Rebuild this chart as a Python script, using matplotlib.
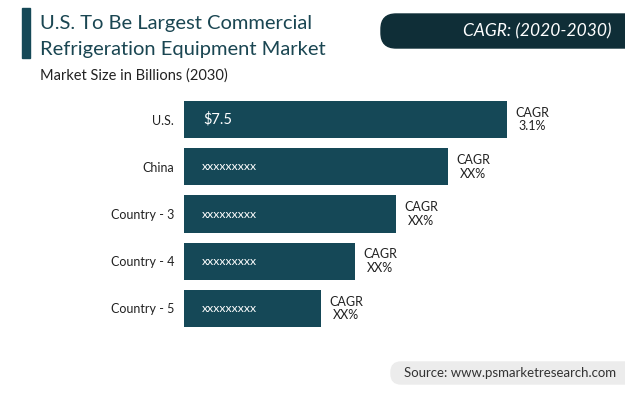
import matplotlib
matplotlib.use("Agg")
import matplotlib.pyplot as plt
from matplotlib.patches import FancyBboxPatch, Rectangle

categories = ["U.S.", "China", "Country - 3", "Country - 4", "Country - 5"]
values = [7.5, 6.13, 4.92, 3.97, 3.18]
bar_labels = ["$7.5", "xxxxxxxxx", "xxxxxxxxx", "xxxxxxxxx", "xxxxxxxxx"]
cagr_labels = ["3.1%", "XX%", "XX%", "XX%", "XX%"]

FONT = "Lato"
BAR = "#154857"
TITLE = "#1a4652"

W, H = 625, 395
fig = plt.figure(figsize=(W / 100, H / 100), dpi=100)
fig.patch.set_facecolor("white")

# Pixel-coordinate background axes for decorations
bg = fig.add_axes([0, 0, 1, 1])
bg.set_xlim(0, W)
bg.set_ylim(H, 0)
bg.axis("off")

bg.add_patch(Rectangle((22, 8), 8, 50, color="#154857"))
bg.text(40, 23, "U.S. To Be Largest Commercial", fontsize=14.5, color=TITLE,
        family=FONT, va="center", ha="left")
bg.text(40, 50, "Refrigeration Equipment Market", fontsize=14.5, color=TITLE,
        family=FONT, va="center", ha="left")
bg.text(40, 76, "Market Size in Billions (2030)", fontsize=10.5, color="#222222",
        family=FONT, va="center", ha="left")

bg.add_patch(FancyBboxPatch((381, 14), 270, 34,
                            boxstyle="round,pad=0,rounding_size=15",
                            color="#0f2e37"))
bg.text(537, 31, "CAGR: (2020-2030)", fontsize=12.5, color="white",
        family=FONT, style="italic", va="center", ha="center")

bg.add_patch(FancyBboxPatch((391, 362), 260, 22,
                            boxstyle="round,pad=0,rounding_size=10",
                            color="#ececec"))
bg.text(404, 373, "Source: www.psmarketresearch.com", fontsize=9.5,
        color="#333333", family=FONT, va="center", ha="left")

# Bar axes
ax = fig.add_axes([184 / W, 1 - 332 / H, 430.7 / W, 236 / H])
ax.set_facecolor("none")
pos = list(range(len(categories)))
ax.barh(pos, values, height=0.79, color=BAR, zorder=2)
ax.set_xlim(0, 10)
ax.set_ylim(4.5, -0.5)
ax.set_yticks(pos)
ax.set_yticklabels(categories, family=FONT, fontsize=9, color="#222222")
ax.tick_params(axis="y", length=0, pad=7)
ax.set_xticks([])
for s in ax.spines.values():
    s.set_visible(False)

for i, (v, bl, cl) in enumerate(zip(values, bar_labels, cagr_labels)):
    if bl.startswith("$"):
        ax.annotate(bl, (0, i), xytext=(14, 0), textcoords="offset points",
                    fontsize=10.5, color="white", family=FONT, va="center", ha="left")
    else:
        ax.annotate(bl, (0, i), xytext=(13, 0), textcoords="offset points",
                    fontsize=8.8, color="white", family=FONT, va="center", ha="left")
    ax.annotate("CAGR\n" + cl, (v, i), xytext=(18, 0), textcoords="offset points",
                fontsize=9, color="#222222", family=FONT, va="center", ha="center",
                multialignment="center", linespacing=1.15)

fig.savefig("out.png", dpi=100, facecolor="white")
